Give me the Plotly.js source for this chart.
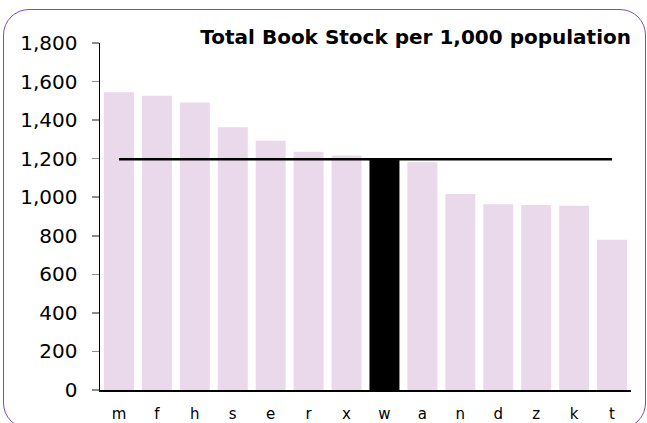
<!DOCTYPE html>
<html>
<head>
<meta charset="utf-8">
<script src="https://cdn.plot.ly/plotly-3.0.1.min.js"></script>
<style>
html,body{margin:0;padding:0;background:#fff;}
#wrap{position:relative;width:647px;height:423px;overflow:hidden;}
#chart{position:absolute;left:0;top:0;width:647px;height:423px;}
#frame{position:absolute;left:3px;top:9px;width:643px;height:420px;border:1.6px solid #8548B8;border-radius:26px;pointer-events:none;box-sizing:border-box;}
</style>
</head>
<body>
<div id="wrap"><div id="chart"></div><div id="frame"></div></div>
<script>
const categories = ["m","f","h","s","e","r","x","w","a","n","d","z","k","t"];
const bookStock = [1544,1527,1491,1363,1293,1236,1216,1195,1181,1017,963,960,956,779];
const highlight = "w";
const averageValue = 1197;
const titleText = "Total Book Stock per 1,000 population";

const barColors = categories.map(c => c === highlight ? "#000000" : "#EAD9EA");

const traces = [
  {
    type: "bar",
    x: categories,
    y: bookStock,
    marker: {color: barColors},
    hoverinfo: "x+y",
    showlegend: false
  },
  {
    type: "scatter",
    mode: "lines",
    x: categories,
    y: categories.map(() => averageValue),
    line: {color: "#000000", width: 2.5},
    hoverinfo: "y",
    showlegend: false
  }
];

const layout = {
  width: 647,
  height: 423,
  margin: {l: 100, r: 16, t: 43, b: 33},
  paper_bgcolor: "#ffffff",
  plot_bgcolor: "#ffffff",
  bargap: 0.21,
  font: {family: "DejaVu Sans, Verdana, sans-serif", color: "#000000"},
  title: {
    text: "<b>" + titleText + "</b>",
    font: {family: "DejaVu Sans, Verdana, sans-serif", size: 20, color: "#000000"},
    xref: "paper", x: 1, xanchor: "right",
    yref: "container", y: 1 - 37/423, yanchor: "middle"
  },
  xaxis: {
    type: "category",
    showline: true, linecolor: "#000000", linewidth: 1.5,
    ticks: "",
    ticklabelstandoff: 9,
    tickfont: {size: 15, color: "#000000"},
    showgrid: false, zeroline: false,
    fixedrange: true
  },
  yaxis: {
    range: [0, 1800],
    dtick: 200,
    tickformat: ",d",
    showline: true, linecolor: "#000000", linewidth: 1.5,
    ticks: "outside", ticklen: 7, tickcolor: "#8c8c8c", tickwidth: 1.5,
    ticklabelstandoff: 10,
    tickfont: {size: 20, color: "#000000"},
    showgrid: false, zeroline: false,
    fixedrange: true
  }
};

Plotly.newPlot("chart", traces, layout, {displayModeBar: false, staticPlot: true});
</script>
</body>
</html>
